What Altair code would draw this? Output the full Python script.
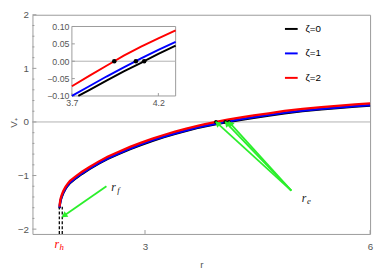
import math
import altair as alt
import pandas as pd

# ---------------- data ----------------
series_names = ["ζ=0", "ζ=1", "ζ=2"]
series_colors = ["#000000", "#0000ff", "#ff0000"]

r_z0 = [1.862, 1.866, 1.875, 1.89, 1.91, 1.94, 1.97, 2.00, 2.08, 2.16, 2.26, 2.38, 2.50,
        2.65, 2.80, 2.95, 3.10, 3.25, 3.40, 3.55, 3.70, 3.737, 3.80, 3.90, 4.00, 4.10,
        4.118, 4.20, 4.30, 4.45, 4.65, 4.86, 5.10, 5.35, 5.60, 5.80, 6.00]
v_z0 = [-1.61, -1.54, -1.47, -1.40, -1.33, -1.25, -1.19, -1.14, -1.05, -0.97, -0.88, -0.78, -0.69,
        -0.598, -0.508, -0.428, -0.353, -0.286, -0.224, -0.169, -0.111, -0.100, -0.083, -0.056, -0.029, -0.005,
        0.000, 0.021, 0.045, 0.078, 0.119, 0.162, 0.200, 0.234, 0.263, 0.284, 0.305]

r_z1 = [1.862, 1.866, 1.875, 1.89, 1.91, 1.94, 1.97, 2.00, 2.08, 2.16, 2.26, 2.38, 2.50,
        2.65, 2.80, 2.95, 3.10, 3.25, 3.40, 3.55, 3.70, 3.80, 3.90, 4.00, 4.07, 4.10,
        4.20, 4.30, 4.45, 4.65, 4.86, 5.10, 5.35, 5.60, 5.80, 6.00]
v_z1 = [-1.60, -1.53, -1.46, -1.39, -1.32, -1.24, -1.18, -1.13, -1.04, -0.96, -0.87, -0.77, -0.68,
        -0.587, -0.497, -0.417, -0.342, -0.275, -0.213, -0.158, -0.100, -0.072, -0.044, -0.018, 0.000, 0.008,
        0.033, 0.056, 0.089, 0.130, 0.173, 0.211, 0.245, 0.274, 0.295, 0.316]

r_z2 = [1.862, 1.866, 1.875, 1.89, 1.91, 1.94, 1.97, 2.00, 2.08, 2.16, 2.26, 2.38, 2.50,
        2.65, 2.80, 2.95, 3.10, 3.25, 3.40, 3.55, 3.70, 3.80, 3.90, 3.945, 4.00, 4.10,
        4.20, 4.30, 4.45, 4.65, 4.86, 5.10, 5.35, 5.60, 5.80, 6.00]
v_z2 = [-1.58, -1.50, -1.43, -1.36, -1.29, -1.21, -1.15, -1.10, -1.01, -0.93, -0.84, -0.74, -0.65,
        -0.555, -0.465, -0.385, -0.310, -0.243, -0.181, -0.126, -0.072, -0.042, -0.013, 0.000, 0.016, 0.042,
        0.066, 0.089, 0.121, 0.162, 0.205, 0.243, 0.277, 0.306, 0.327, 0.348]

zero_r = [3.945, 4.07, 4.118]
zero_v = [0.0, 0.0, 0.0]

horizon_r = [1.858, 1.897]
horizon_top = [-1.58, -1.58]

arrow_from_r = [2.486, 4.95, 4.95, 4.95]
arrow_from_v = [-1.198, -1.28, -1.28, -1.28]
arrow_to_r = [1.90, 3.945, 4.07, 4.118]
arrow_to_v = [-1.77, 0.0, 0.0, 0.0]

label_main = ["r", "r", "r"]
label_sub = ["f", "e", "h"]
label_r = [2.58, 5.12, 1.824]
label_v = [-1.207, -1.42, -2.278]
label_color = ["#1a1a1a", "#1a1a1a", "#ff0000"]

x_ticks = [3, 6]
y_ticks = [-2, -1, 0, 1, 2]
y_minor_ticks = [-1.8, -1.6, -1.4, -1.2, -0.8, -0.6, -0.4, -0.2, 0.2, 0.4, 0.6, 0.8,
                 1.2, 1.4, 1.6, 1.8]
inset_x_ticks = [3.7, 4.2]
inset_y_ticks = [-0.10, -0.05, 0.0, 0.05, 0.10]

X_DOMAIN = [1.5, 6.0001]
Y_DOMAIN = [-2.09, 2.0005]
INSET_X = [3.7, 4.3]
INSET_Y = [-0.1, 0.1]

# ---------------- layout (style) ----------------
W, H = 345, 224
INSET_PX_X = [40.3, 146.3]
INSET_PX_Y = [83, 12]
GRAY = "#9a9a9a"
LABEL_GRAY = "#555555"
GREEN = "#2bef2b"
FONT = "Liberation Sans"

# ---------------- tables ----------------
rows = []
for name, rs, vs in zip(series_names, [r_z0, r_z1, r_z2], [v_z0, v_z1, v_z2]):
    for r, v in zip(rs, vs):
        rows.append({"series": name, "r": r, "V": v})
curves = pd.DataFrame(rows)

zeros = pd.DataFrame({"r": zero_r, "V": zero_v})
horizons = pd.DataFrame({"r": horizon_r, "V": horizon_top, "V2": [Y_DOMAIN[0]] * len(horizon_r)})
arrows = pd.DataFrame({"r": arrow_from_r, "V": arrow_from_v, "r2": arrow_to_r, "V2": arrow_to_v})

kx = W / (X_DOMAIN[1] - X_DOMAIN[0])
ky = H / (Y_DOMAIN[1] - Y_DOMAIN[0])
heads = []
for x0, y0, x1, y1 in zip(arrow_from_r, arrow_from_v, arrow_to_r, arrow_to_v):
    dxp = (x1 - x0) * kx
    dyp = -(y1 - y0) * ky
    L = math.hypot(dxp, dyp)
    ux, uy = dxp / L, dyp / L
    ang = math.degrees(math.atan2(ux, -uy)) % 360
    back = 3.0
    heads.append({"r": x1 - ux * back / kx, "V": y1 + uy * back / ky, "ang": ang})
heads = pd.DataFrame(heads)

labels = pd.DataFrame({"r": label_r, "V": label_v, "main": label_main,
                       "sub": label_sub, "col": label_color})

zero_line = pd.DataFrame({"V": [0.0]})
ytick_major = pd.DataFrame({"V": y_ticks})
ytick_minor = pd.DataFrame({"V": y_minor_ticks})
xtick_major = pd.DataFrame({"r": x_ticks})
ixtick = pd.DataFrame({"r": inset_x_ticks})
iytick = pd.DataFrame({"V": inset_y_ticks})

# ---------------- main plot ----------------
xs = alt.Scale(domain=X_DOMAIN, nice=False, zero=False)
ys = alt.Scale(domain=Y_DOMAIN, nice=False, zero=False)
x_axis = alt.Axis(values=x_ticks, format="d", title="r", ticks=False, domain=False, grid=False,
                  labelPadding=8, labelFontSize=10, titleFontSize=10, titleFontWeight="normal",
                  titleY=31, titleBaseline="middle", labelOverlap=False, labelFlush=False)
y_axis = alt.Axis(orient="left", values=y_ticks, format="d", title="V₊", ticks=False, domain=False,
                  grid=False, labelPadding=4, labelFontSize=10, labelOverlap=False,
                  labelBound=False, labelFlush=False, labelBaseline="middle",
                  titleFontSize=10, titleFontWeight="normal", titleAngle=270, titleX=-19,
                  titleY=110, titleBaseline="middle", titleAlign="center")
X = alt.X("r:Q", scale=xs, axis=x_axis)
Y = alt.Y("V:Q", scale=ys, axis=y_axis)
color_scale = alt.Scale(domain=series_names, range=series_colors)
legend = alt.Legend(title=None, orient="none", legendX=257, legendY=7, symbolType="stroke",
                    symbolSize=169, symbolStrokeWidth=2, labelFontSize=10, labelFont=FONT,
                    labelColor="#000000", rowPadding=12, padding=0, labelOffset=7)
C = alt.Color("series:N", scale=color_scale, legend=legend)

base = alt.Chart(curves)
main_layers = [
    alt.Chart(zero_line).mark_rule(color="#b0b0b0", strokeWidth=1).encode(y=Y),
    alt.Chart(ytick_major).mark_rule(color=GRAY, strokeWidth=1).encode(
        y=Y, x=alt.value(0), x2=alt.value(4)),
    alt.Chart(ytick_minor).mark_rule(color=GRAY, strokeWidth=1).encode(
        y=Y, x=alt.value(0), x2=alt.value(2)),
    alt.Chart(xtick_major).mark_rule(color=GRAY, strokeWidth=1).encode(
        x=X, y=alt.value(H), y2=alt.value(H - 4)),
    alt.Chart(horizons).mark_rule(color="#000000", strokeWidth=1.3, strokeDash=[3, 2]).encode(
        x=X, y=Y, y2="V2:Q"),
]
for name in series_names:
    main_layers.append(
        base.mark_line(strokeWidth=2.3).encode(x=X, y=Y, color=C, order="r:Q")
        .transform_filter(alt.datum.series == name))
main_layers += [
    alt.Chart(zeros).mark_circle(size=14, color="#000000", opacity=1).encode(x=X, y=Y),
    alt.Chart(arrows).mark_rule(color=GREEN, strokeWidth=1.8).encode(x=X, y=Y, x2="r2:Q", y2="V2:Q"),
    alt.Chart(heads).mark_point(shape="triangle", filled=True, size=45, color=GREEN, opacity=1).encode(
        x=X, y=Y, angle=alt.Angle("ang:Q", scale=None)),
    alt.Chart(labels).mark_text(font="Liberation Serif", fontStyle="italic", fontSize=12,
                                align="center", baseline="middle").encode(
        x=X, y=Y, text="main:N", color=alt.Color("col:N", scale=None)),
    alt.Chart(labels).mark_text(font="Liberation Serif", fontStyle="italic", fontSize=9,
                                align="center", baseline="middle", dx=5, dy=3).encode(
        x=X, y=Y, text="sub:N", color=alt.Color("col:N", scale=None)),
]
main = alt.layer(*main_layers)

# ---------------- inset ----------------
ixs = alt.Scale(domain=INSET_X, range=INSET_PX_X, nice=False, zero=False)
iys = alt.Scale(domain=INSET_Y, range=INSET_PX_Y, nice=False, zero=False)
ix_axis = alt.Axis(orient="bottom", offset=INSET_PX_Y[0] - H, values=inset_x_ticks, format=".1f",
                   title=None, ticks=False, domain=False, grid=False, labelPadding=3,
                   labelFontSize=9, labelFlush=False)
iy_axis = alt.Axis(orient="left", offset=-INSET_PX_X[0], values=inset_y_ticks, format=".2f",
                   title=None, ticks=False, domain=False, grid=False, labelPadding=3,
                   labelFontSize=9)
IX = alt.X("r:Q", scale=ixs, axis=ix_axis)
IY = alt.Y("V:Q", scale=iys, axis=iy_axis)

frame = pd.DataFrame({"r": [INSET_X[0]], "r2": [INSET_X[1]], "V": [INSET_Y[0]], "V2": [INSET_Y[1]]})
izero = pd.DataFrame({"r": [INSET_X[0]], "r2": [INSET_X[1]], "V": [0.0]})

inset_layers = [
    alt.Chart(frame).mark_rect(fill="#ffffff", stroke=GRAY, strokeWidth=1).encode(
        x=IX, x2="r2:Q", y=IY, y2="V2:Q"),
    alt.Chart(izero).mark_rule(color="#b0b0b0", strokeWidth=1).encode(x=IX, x2="r2:Q", y=IY),
    alt.Chart(iytick).mark_rule(color=GRAY, strokeWidth=1).encode(
        y=IY, x=alt.value(INSET_PX_X[0]), x2=alt.value(INSET_PX_X[0] + 3)),
    alt.Chart(ixtick).mark_rule(color=GRAY, strokeWidth=1).encode(
        x=IX, y=alt.value(INSET_PX_Y[0]), y2=alt.value(INSET_PX_Y[0] - 3)),
]
for name in series_names:
    inset_layers.append(
        base.mark_line(strokeWidth=2).encode(x=IX, y=IY, color=C, order="r:Q")
        .transform_filter(alt.datum.series == name)
        .transform_filter((alt.datum.r >= INSET_X[0]) & (alt.datum.r <= INSET_X[1])
                          & (alt.datum.V >= INSET_Y[0]) & (alt.datum.V <= INSET_Y[1])))
inset_layers.append(
    alt.Chart(zeros).mark_circle(size=22, color="#000000", opacity=1).encode(x=IX, y=IY))
inset = alt.layer(*inset_layers)

chart = (
    alt.layer(main, inset)
    .resolve_scale(x="independent", y="independent")
    .properties(width=W, height=H, padding={"left": 25, "top": 4, "right": 4, "bottom": 37},
                autosize=alt.AutoSizeParams(type="none"))
    .configure_view(stroke=GRAY, strokeWidth=1)
    .configure_axis(labelFont=FONT, titleFont=FONT, labelColor=LABEL_GRAY, titleColor=LABEL_GRAY)
)

chart.save("out.html", embed_options={"renderer": "svg", "actions": False})
